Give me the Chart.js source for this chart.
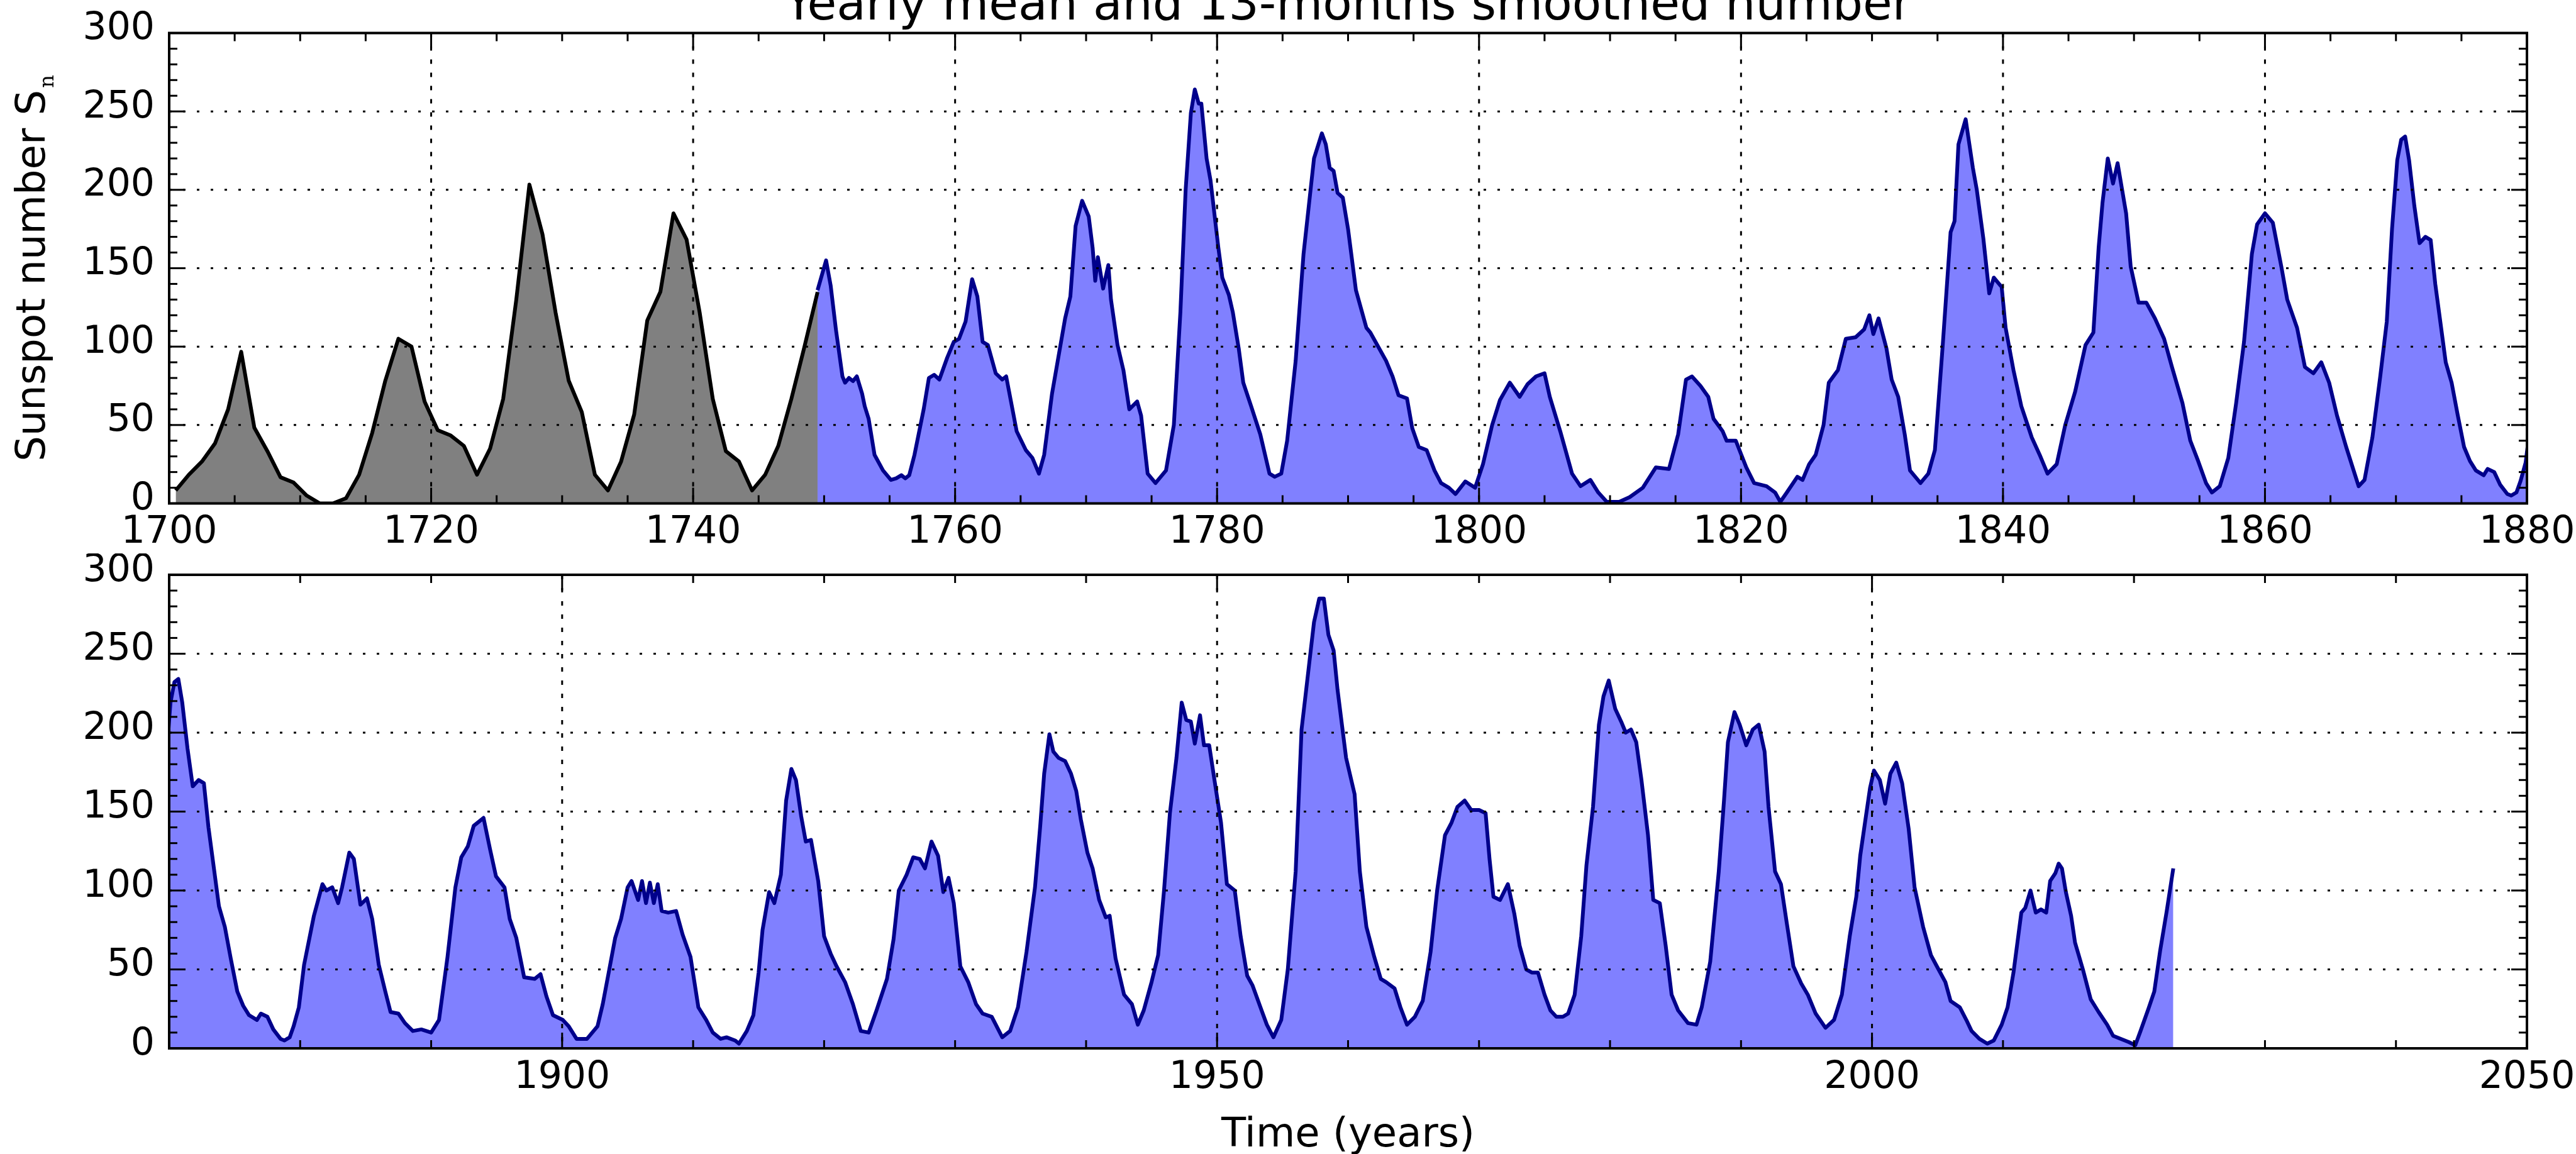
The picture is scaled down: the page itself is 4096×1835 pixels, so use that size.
<!DOCTYPE html>
<html>
<head>
<meta charset="utf-8">
<title>Sunspot number</title>
<script src="https://cdn.jsdelivr.net/npm/chart.js@4.4.1/dist/chart.umd.min.js"></script>
<style>
  html, body { margin: 0; padding: 0; background: #fff; }
  #fig { position: relative; width: 4096px; height: 1835px; overflow: hidden; background: #fff; }
  #fig canvas { position: absolute; left: 0; }
  #top { top: 0; }
  #bottom { top: 880px; }
</style>
</head>
<body>
<div id="fig">
  <canvas id="top" width="4096" height="880"></canvas>
  <canvas id="bottom" width="4096" height="955"></canvas>
</div>
<script>
// yearly mean sunspot number 1700..1749 (plotted mid-year)
var yearlyStart = 1700;
var yearlyMean = [8.3, 18.3, 26.7, 38.3, 60.0, 96.7, 48.3, 33.3, 16.7, 13.3,
                  5.0, 0.0, 0.0, 3.3, 18.3, 45.0, 78.3, 105.0, 100.0, 65.0,
                  46.7, 43.3, 36.7, 18.3, 35.0, 66.7, 130.0, 203.3, 171.7, 121.7,
                  78.3, 58.3, 18.3, 8.3, 26.7, 56.7, 116.7, 135.0, 185.0, 168.3,
                  121.7, 66.7, 33.3, 26.7, 8.3, 18.3, 36.7, 66.7, 100.0, 134.8];

// 13-month smoothed monthly number, [year, Sn]
var smoothed = [
  [1749.5,136],[1750.15,155],[1750.5,139],[1750.9,111],[1751.4,81],[1751.6,77],[1751.9,80],[1752.2,78],[1752.5,81],[1752.9,70],
  [1753.1,62],[1753.4,54],[1753.85,31],[1754.5,21],[1755.1,15],[1755.5,16],[1755.9,18],[1756.2,16],[1756.5,18],[1756.9,31],
  [1757.6,60],[1758.0,80],[1758.4,82],[1758.8,79],[1759.4,93],[1759.9,103],[1760.3,105],[1760.8,116],[1761.3,143],[1761.7,132],
  [1762.1,103],[1762.5,101],[1763.1,83],[1763.6,79],[1763.9,81],[1764.7,46],[1765.4,34],[1765.9,29],[1766.4,19],[1766.8,31],
  [1767.4,70],[1768.4,118],[1768.8,132],[1769.2,177],[1769.7,193],[1770.2,183],[1770.5,163],[1770.7,142],[1770.9,157],[1771.3,137],
  [1771.7,152],[1771.9,130],[1772.4,101],[1772.85,85],[1773.3,60],[1773.9,65],[1774.2,56],[1774.7,19],[1775.3,13],[1776.1,21],
  [1776.7,50],[1777.2,122],[1777.6,200],[1778.0,249],[1778.3,264],[1778.6,255],[1778.8,255],[1779.2,220],[1779.5,206],[1780.1,163],
  [1780.4,144],[1780.9,133],[1781.2,122],[1781.65,99],[1782.0,77],[1782.6,62],[1783.3,44],[1784.0,19],[1784.4,17],[1784.9,19],
  [1785.35,40],[1786.0,91],[1786.6,159],[1787.4,220],[1788.0,236],[1788.3,229],[1788.6,214],[1788.9,212],[1789.2,198],[1789.6,195],
  [1790.0,175],[1790.6,136],[1791.4,112],[1791.7,109],[1792.1,103],[1792.9,91],[1793.4,81],[1793.85,69],[1794.5,67],[1794.9,48],
  [1795.4,36],[1796.0,34],[1796.6,21],[1797.1,13],[1797.7,10],[1798.2,6],[1798.95,14],[1799.7,10],[1800.3,25],[1801.0,50],
  [1801.6,66],[1802.35,77],[1803.1,68],[1803.7,76],[1804.35,81],[1805.0,83],[1805.4,68],[1806.2,46],[1807.1,19],[1807.75,11],
  [1808.5,15],[1809.1,7],[1809.75,1],[1810.7,1],[1811.5,4],[1812.5,10],[1813.5,23],[1814.5,22],[1815.2,44],[1815.8,79],
  [1816.25,81],[1816.9,75],[1817.5,68],[1817.9,54],[1818.6,46],[1818.9,40],[1819.6,40],[1820.4,23],[1821.0,13],[1821.95,11],
  [1822.6,7],[1823.0,1],[1823.5,7],[1824.3,17],[1824.7,15],[1825.2,25],[1825.7,31],[1826.3,50],[1826.7,77],[1827.4,85],
  [1828.0,105],[1828.75,106],[1829.4,111],[1829.8,120],[1830.1,108],[1830.5,118],[1831.1,99],[1831.5,79],[1832.0,68],[1832.5,44],
  [1832.9,21],[1833.7,13],[1834.3,19],[1834.8,34],[1835.4,101],[1836.0,173],[1836.3,180],[1836.6,229],[1837.15,245],[1837.7,214],
  [1838.0,200],[1838.5,169],[1838.95,134],[1839.3,144],[1839.9,138],[1840.2,112],[1840.8,85],[1841.4,62],[1842.2,42],[1842.8,31],
  [1843.4,19],[1844.1,25],[1844.75,50],[1845.5,71],[1846.3,101],[1846.9,109],[1847.3,163],[1847.6,192],[1848.0,220],[1848.4,204],
  [1848.75,217],[1849.4,185],[1849.75,151],[1850.35,128],[1850.95,128],[1851.6,118],[1852.3,105],[1852.9,87],[1853.7,64],[1854.3,40],
  [1854.9,27],[1855.5,13],[1855.95,7],[1856.55,11],[1857.2,29],[1857.8,64],[1858.4,103],[1859.0,159],[1859.4,178],[1860.0,185],
  [1860.6,179],[1861.25,151],[1861.7,130],[1862.45,112],[1863.05,87],[1863.7,83],[1864.3,90],[1864.9,77],[1865.5,56],[1866.2,36],
  [1867.15,11],[1867.6,15],[1868.2,42],[1868.8,81],[1869.3,116],[1869.7,175],[1870.1,219],[1870.4,232],[1870.7,234],[1871.0,219],
  [1871.4,190],[1871.8,166],[1872.25,170],[1872.65,168],[1873.0,140],[1873.4,115],[1873.8,90],[1874.25,77],[1874.7,57],[1875.2,36],
  [1875.65,27],[1876.1,21],[1876.7,18],[1877.0,22],[1877.5,20],[1877.95,12],[1878.5,6],[1878.8,5],[1879.2,7],[1879.5,14],
  [1879.9,26],[1880.3,53],[1881.05,84],[1881.7,104],[1882.0,100],[1882.45,102],[1882.9,92],[1883.2,102],[1883.75,124],[1884.1,120],
  [1884.6,91],[1885.1,95],[1885.5,82],[1886.0,53],[1886.5,36],[1886.9,23],[1887.5,22],[1888.0,16],[1888.6,11],[1889.25,12],
  [1890.0,10],[1890.6,18],[1891.25,58],[1891.85,102],[1892.3,121],[1892.8,128],[1893.25,141],[1893.7,144],[1894.0,146],[1894.5,126],
  [1894.95,109],[1895.6,102],[1896.0,82],[1896.5,70],[1897.1,45],[1897.9,44],[1898.35,47],[1898.8,33],[1899.3,21],[1900.05,18],
  [1900.5,14],[1901.1,6],[1901.9,6],[1902.7,14],[1903.1,28],[1903.6,50],[1904.05,70],[1904.5,82],[1905.0,102],[1905.3,106],
  [1905.8,94],[1906.1,106],[1906.4,92],[1906.7,105],[1907.0,92],[1907.3,104],[1907.6,87],[1908.1,86],[1908.7,87],[1909.2,72],
  [1909.8,58],[1910.4,26],[1911.0,18],[1911.5,10],[1912.1,6],[1912.55,7],[1913.2,5],[1913.5,3],[1914.1,11],[1914.6,21],
  [1915.0,48],[1915.3,75],[1915.8,99],[1916.2,92],[1916.7,110],[1917.1,157],[1917.5,177],[1917.85,170],[1918.25,147],[1918.6,131],
  [1919.0,132],[1919.55,106],[1920.0,71],[1920.5,60],[1920.95,52],[1921.6,42],[1922.2,28],[1922.8,11],[1923.4,10],[1924.0,24],
  [1924.8,44],[1925.3,69],[1925.7,100],[1926.3,110],[1926.8,121],[1927.3,120],[1927.7,114],[1928.2,131],[1928.7,122],[1929.1,99],
  [1929.5,108],[1929.9,92],[1930.4,52],[1931.0,42],[1931.6,28],[1932.1,22],[1932.8,20],[1933.6,7],[1934.2,11],[1934.8,26],
  [1935.45,61],[1936.1,102],[1936.5,141],[1936.8,174],[1937.2,199],[1937.5,188],[1937.9,184],[1938.4,182],[1938.85,174],[1939.25,163],
  [1939.6,145],[1940.1,124],[1940.5,114],[1941.0,94],[1941.5,83],[1941.8,84],[1942.25,57],[1942.9,34],[1943.5,28],[1943.95,15],
  [1944.4,24],[1945.0,42],[1945.5,59],[1945.95,100],[1946.4,149],[1946.9,184],[1947.3,219],[1947.65,208],[1948.0,207],[1948.3,193],
  [1948.7,211],[1949.0,192],[1949.4,192],[1949.8,170],[1950.3,143],[1950.75,104],[1951.35,100],[1951.8,71],[1952.3,46],[1952.7,40],
  [1953.4,24],[1953.8,15],[1954.3,7],[1954.9,18],[1955.4,50],[1956.0,112],[1956.45,202],[1956.8,227],[1957.4,270],[1957.8,285],
  [1958.15,285],[1958.5,262],[1958.9,252],[1959.2,227],[1959.85,184],[1960.5,161],[1960.9,112],[1961.4,77],[1962.0,58],[1962.5,44],
  [1962.9,42],[1963.55,38],[1964.0,26],[1964.5,15],[1965.1,20],[1965.7,30],[1966.3,61],[1966.8,100],[1967.4,135],[1967.9,143],
  [1968.35,153],[1968.9,157],[1969.4,151],[1970.0,151],[1970.5,149],[1970.8,120],[1971.1,96],[1971.6,94],[1972.2,104],[1972.7,85],
  [1973.1,65],[1973.6,50],[1974.05,48],[1974.5,48],[1975.0,34],[1975.45,24],[1975.9,20],[1976.4,20],[1976.8,22],[1977.3,34],
  [1977.8,71],[1978.2,116],[1978.7,153],[1979.15,205],[1979.5,223],[1979.9,233],[1980.4,215],[1980.85,207],[1981.2,200],[1981.6,202],
  [1982.0,194],[1982.4,170],[1982.9,135],[1983.3,94],[1983.8,92],[1984.25,65],[1984.7,34],[1985.2,24],[1985.95,16],[1986.6,15],
  [1987.0,26],[1987.65,55],[1988.3,112],[1988.7,157],[1989.0,194],[1989.5,213],[1989.9,205],[1990.4,192],[1990.9,202],[1991.35,205],
  [1991.8,188],[1992.1,153],[1992.6,112],[1993.05,104],[1993.5,79],[1994.0,52],[1994.6,41],[1995.1,34],[1995.7,22],[1996.45,13],
  [1997.1,18],[1997.7,34],[1998.3,71],[1998.8,96],[1999.1,122],[1999.5,145],[1999.85,165],[2000.15,176],[2000.6,170],[2001.0,155],
  [2001.4,174],[2001.85,181],[2002.3,168],[2002.8,139],[2003.25,102],[2003.9,77],[2004.5,59],[2004.95,52],[2005.6,42],[2006.0,30],
  [2006.7,26],[2007.2,18],[2007.6,11],[2008.2,6],[2008.8,3],[2009.3,5],[2009.9,15],[2010.35,26],[2010.8,48],[2011.1,67],
  [2011.4,86],[2011.7,89],[2012.1,100],[2012.5,86],[2012.9,88],[2013.3,86],[2013.6,106],[2014.0,111],[2014.25,117],[2014.5,114],
  [2014.8,99],[2015.2,84],[2015.5,67],[2016.1,50],[2016.7,31],[2017.3,23],[2017.95,15],[2018.4,8],[2019.0,6],[2019.6,4],
  [2020.1,2],[2020.5,11],[2021.1,25],[2021.55,36],[2022.0,62],[2022.5,87],[2023.0,114]
];

var topYears = [1700, 1720, 1740, 1760, 1780, 1800, 1820, 1840, 1860, 1880];
var bottomYears = [1900, 1950, 2000, 2050];
var snTicks = [0, 50, 100, 150, 200, 250, 300];

var titleText = 'Yearly mean and 13-months smoothed number';
var yLabel = 'Sunspot number S';
var yLabelSub = 'n';
var xLabel = 'Time (years)';

var FONT = '"DejaVu Sans", "Bitstream Vera Sans", sans-serif';
var TICK_FONT = 60;
var LABEL_FONT = 64;

var yearlyPoints = yearlyMean.map(function (v, i) { return {x: yearlyStart + i + 0.5, y: v}; });
var smoothedPoints = smoothed.map(function (p) { return {x: p[0], y: p[1]}; });

function line(ctx, x1, y1, x2, y2) {
    ctx.beginPath();
    ctx.moveTo(x1, y1);
    ctx.lineTo(x2, y2);
    ctx.stroke();
}

// dotted grid, inward major/minor ticks on all four sides and the box
function axesPlugin(xMinorStep, yMinorStep) {
    return {
        id: 'mplAxes',
        afterDatasetsDraw: function (chart) {
            var ctx = chart.ctx, a = chart.chartArea;
            var xs = chart.scales.x, ys = chart.scales.y;
            var xMajor = xs.ticks.map(function (t) { return t.value; });
            var yMajor = ys.ticks.map(function (t) { return t.value; });
            ctx.save();
            ctx.strokeStyle = '#000';
            ctx.lineCap = 'butt';

            ctx.lineWidth = 3;
            ctx.setLineDash([7, 14]);
            xMajor.forEach(function (v) {
                if (v <= xs.min || v >= xs.max) return;
                var px = xs.getPixelForValue(v);
                line(ctx, px, a.top, px, a.bottom);
            });
            ctx.setLineDash([4, 18]);
            yMajor.forEach(function (v) {
                if (v <= ys.min || v >= ys.max) return;
                var py = ys.getPixelForValue(v);
                line(ctx, a.left, py, a.right, py);
            });
            ctx.setLineDash([]);

            var majorLen = 25, minorLen = 13;
            for (var v = xs.min; v <= xs.max + 1e-6; v += xMinorStep) {
                var len = xMajor.indexOf(v) >= 0 ? majorLen : minorLen;
                var px = xs.getPixelForValue(v);
                line(ctx, px, a.bottom, px, a.bottom - len);
                line(ctx, px, a.top, px, a.top + len);
            }
            for (var w = ys.min; w <= ys.max + 1e-6; w += yMinorStep) {
                var len2 = yMajor.indexOf(w) >= 0 ? majorLen : minorLen;
                var py = ys.getPixelForValue(w);
                line(ctx, a.left, py, a.left + len2, py);
                line(ctx, a.right, py, a.right - len2, py);
            }

            ctx.lineWidth = 4;
            ctx.strokeRect(a.left, a.top, a.right - a.left, a.bottom - a.top);
            ctx.restore();
        }
    };
}

var topLabels = {
    id: 'topLabels',
    afterDraw: function (chart) {
        var ctx = chart.ctx, a = chart.chartArea;
        ctx.save();
        ctx.fillStyle = '#000';
        ctx.textBaseline = 'alphabetic';
        ctx.textAlign = 'center';
        ctx.font = '76px ' + FONT;
        ctx.fillText(titleText, (a.left + a.right) / 2, 31);

        ctx.font = LABEL_FONT + 'px ' + FONT;
        var w1 = ctx.measureText(yLabel).width;
        ctx.font = '32px "DejaVu Serif", serif';
        var w2 = ctx.measureText(yLabelSub).width;
        var total = w1 + 3 + w2;
        ctx.translate(71, (a.top + a.bottom) / 2 + total / 2);
        ctx.rotate(-Math.PI / 2);
        ctx.textAlign = 'left';
        ctx.font = LABEL_FONT + 'px ' + FONT;
        ctx.fillText(yLabel, 0, 0);
        ctx.font = '32px "DejaVu Serif", serif';
        ctx.fillText(yLabelSub, w1 + 3, 14);
        ctx.restore();
    }
};

var bottomLabels = {
    id: 'bottomLabels',
    afterDraw: function (chart) {
        var ctx = chart.ctx, a = chart.chartArea;
        ctx.save();
        ctx.fillStyle = '#000';
        ctx.textAlign = 'center';
        ctx.textBaseline = 'alphabetic';
        ctx.font = LABEL_FONT + 'px ' + FONT;
        ctx.fillText(xLabel, (a.left + a.right) / 2, 943);
        ctx.restore();
    }
};

function makeChart(id, datasets, xMin, xMax, xTicks, xMinorStep, topPad, xAxisHeight, labels) {
    var tickFont = {family: FONT, size: TICK_FONT};
    return new Chart(document.getElementById(id).getContext('2d'), {
        type: 'line',
        data: {datasets: datasets},
        options: {
            responsive: false,
            devicePixelRatio: 1,
            animation: false,
            events: [],
            layout: {padding: {left: 0, right: 78, top: topPad, bottom: 0}},
            plugins: {legend: {display: false}, tooltip: {enabled: false}, title: {display: false}},
            elements: {point: {radius: 0}, line: {tension: 0}},
            scales: {
                x: {
                    type: 'linear', min: xMin, max: xMax,
                    grid: {display: false, drawTicks: false},
                    border: {display: false},
                    afterBuildTicks: function (s) { s.ticks = xTicks.map(function (v) { return {value: v}; }); },
                    afterFit: function (s) {
                        s.height = xAxisHeight;
                        s.paddingLeft = s.paddingRight = s.paddingTop = s.paddingBottom = 0;
                    },
                    ticks: {
                        autoSkip: false, maxRotation: 0, minRotation: 0, padding: 11,
                        color: '#000', font: tickFont,
                        callback: function (v) { return String(v); }
                    }
                },
                y: {
                    type: 'linear', min: 0, max: 300,
                    grid: {display: false, drawTicks: false},
                    border: {display: false},
                    afterBuildTicks: function (s) { s.ticks = snTicks.map(function (v) { return {value: v}; }); },
                    afterFit: function (s) {
                        s.width = 269;
                        s.paddingLeft = s.paddingRight = s.paddingTop = s.paddingBottom = 0;
                    },
                    ticks: {
                        autoSkip: false, padding: 23, labelOffset: -6,
                        color: '#000', font: tickFont,
                        callback: function (v) { return String(v); }
                    }
                }
            }
        },
        plugins: [axesPlugin(xMinorStep, 10), labels]
    });
}

var smoothedStyle = {
    data: smoothedPoints,
    borderColor: '#00008b',
    backgroundColor: '#8080ff',
    borderWidth: 6,
    borderJoinStyle: 'round',
    fill: 'origin'
};

makeChart('top', [
    {
        data: yearlyPoints,
        borderColor: '#000000',
        backgroundColor: '#808080',
        borderWidth: 6,
        borderJoinStyle: 'round',
        fill: 'origin'
    },
    smoothedStyle
], 1700, 1880, topYears, 5, 52.5, 79.5, topLabels);

makeChart('bottom', [Object.assign({}, smoothedStyle)], 1870, 2050, bottomYears, 10, 34, 168, bottomLabels);
</script>
</body>
</html>
